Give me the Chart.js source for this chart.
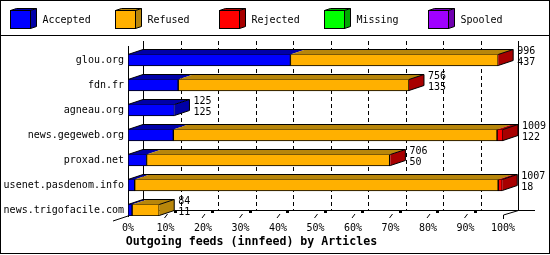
<!DOCTYPE html>
<html>
<head>
<meta charset="utf-8">
<script src="https://cdn.jsdelivr.net/npm/chart.js@4"></script>
<style>
  html, body { margin: 0; padding: 0; background: #fff; }
  canvas { display: block; }
</style>
</head>
<body>
<canvas id="feeds" width="550" height="255"></canvas>
<script>
// Serveurs innfeed et nombre d'articles par catégorie
const hosts = ['glou.org', 'fdn.fr', 'agneau.org', 'news.gegeweb.org', 'proxad.net', 'usenet.pasdenom.info', 'news.trigofacile.com'];
const accepted = [437, 135, 125, 122, 50, 18, 11];
const refused  = [559, 621, null, 871, 654, 978, 73];
const rejected = [0, 0, null, 16, 2, 11, null];
const missing  = [null, null, null, null, null, null, null];
const spooled  = [null, null, null, null, null, null, null];
const percentTicks = [0, 10, 20, 30, 40, 50, 60, 70, 80, 90, 100];

const seriesNames = ['Accepted', 'Refused', 'Rejected', 'Missing', 'Spooled'];
const frontColors = ['#0000ff', '#ffb000', '#ff0000', '#00ff00', '#a000ff'];
const darkColors  = ['#0000a8', '#b8860b', '#a80000', '#00a800', '#7000b0'];

const series = [accepted, refused, rejected, missing, spooled];
const totals = hosts.map((h, i) => series.reduce((s, arr) => s + (arr[i] || 0), 0));
const maxTotal = Math.max(...totals);

const DX = 15, DY = 5; // décalage du mur du fond (effet 3D)
const FONT = 'DejaVu Sans Mono';
const Y_MIN = -0.56, Y_MAX = 6.24;

function line(ctx, x1, y1, x2, y2) {
  ctx.beginPath();
  ctx.moveTo(x1, y1);
  ctx.lineTo(x2, y2);
  ctx.stroke();
}

function face(ctx, pts, color) {
  ctx.beginPath();
  ctx.moveTo(pts[0][0], pts[0][1]);
  for (let k = 1; k < pts.length; k++) ctx.lineTo(pts[k][0], pts[k][1]);
  ctx.closePath();
  ctx.fillStyle = color;
  ctx.fill();
}

const depthPlugin = {
  id: 'depth',
  // mur du fond, grille pointillée et sol
  beforeDatasetsDraw(chart) {
    const ctx = chart.ctx;
    const xs = chart.scales.x;
    const a = chart.chartArea;
    const backTop = a.top - DY;
    const floorY = Math.round(a.bottom - DY) - 0.5;
    ctx.save();
    ctx.strokeStyle = '#000';
    ctx.lineWidth = 1;
    percentTicks.forEach((p, k) => {
      const xf = xs.getPixelForValue(p / 100 * maxTotal);
      const xb = Math.round(xf + DX) + 0.5;
      const edge = k === 0 || k === percentTicks.length - 1;
      ctx.setLineDash(edge ? [] : [4, 3]);
      line(ctx, xb, backTop, xb, floorY);
      ctx.setLineDash([]);
      if (k === 0) {
        line(ctx, xf - DX, a.bottom + DY, xf, a.bottom);
      } else if (edge) {
        const x = Math.round(xf) + 0.5;
        line(ctx, x, a.bottom - 1, x, a.bottom + 3);
        line(ctx, x, a.bottom - 1, x + DX, floorY);
      } else {
        line(ctx, xf - 1, a.bottom + 2, xf + 2, a.bottom - 2);
        ctx.fillStyle = '#000';
        ctx.fillRect(Math.round(xf) + 8, a.bottom - 5, 3, 2);
      }
    });
    line(ctx, a.left + DX, floorY, a.right + DX + 17, floorY);
    ctx.restore();
  },
  // faces du dessus et côté des barres, puis valeurs
  afterDatasetsDraw(chart) {
    const ctx = chart.ctx;
    ctx.save();
    ctx.strokeStyle = '#000';
    ctx.lineWidth = 1;
    hosts.forEach((host, i) => {
      let first = null, last = null, lastDs = 0;
      chart.data.datasets.forEach((ds, d) => {
        if (ds.data[i].x === null) return;
        const el = chart.getDatasetMeta(d).data[i];
        const t = el.y - el.height / 2 + 0.5;
        if (el.x > el.base) {
          face(ctx, [[el.base, t], [el.x, t], [el.x + DX, t - DY], [el.base + DX, t - DY]], darkColors[d]);
        }
        if (!first) first = el;
        last = el;
        lastDs = d;
      });
      if (!last) return;
      const t = last.y - last.height / 2 + 0.5;
      const b = last.y + last.height / 2 - 0.5;
      const xe = last.x;
      face(ctx, [[xe, t], [xe + DX, t - DY], [xe + DX, b - DY], [xe, b]], darkColors[lastDs]);
      ctx.beginPath();
      ctx.moveTo(first.base, t);
      ctx.lineTo(first.base + DX, t - DY);
      ctx.lineTo(xe + DX, t - DY);
      ctx.lineTo(xe + DX, b - DY);
      ctx.lineTo(xe, b);
      ctx.moveTo(xe, t);
      ctx.lineTo(xe + DX, t - DY);
      ctx.stroke();

      ctx.fillStyle = '#000';
      ctx.font = '10px "' + FONT + '"';
      ctx.textAlign = 'left';
      ctx.textBaseline = 'middle';
      ctx.fillText(String(totals[i]), xe + DX + 4, last.y - 9);
      ctx.fillText(String(accepted[i]), xe + DX + 4, last.y + 2);
    });
    ctx.restore();
  },
  // légende avec petits cubes + cadre
  afterDraw(chart) {
    const ctx = chart.ctx;
    ctx.save();
    ctx.strokeStyle = '#000';
    ctx.lineWidth = 1;
    chart.data.datasets.forEach((ds, d) => {
      const x = Math.round(10 + d * 104.6) + 0.5;
      const y = 10.5, w = 20, h = 18, dx = 6, dy = 2;
      face(ctx, [[x, y], [x + w, y], [x + w + dx, y - dy], [x + dx, y - dy]], darkColors[d]);
      face(ctx, [[x + w, y], [x + w + dx, y - dy], [x + w + dx, y + h - dy], [x + w, y + h]], darkColors[d]);
      ctx.stroke();
      ctx.beginPath();
      ctx.moveTo(x, y);
      ctx.lineTo(x + dx, y - dy);
      ctx.lineTo(x + w + dx, y - dy);
      ctx.stroke();
      ctx.fillStyle = ds.backgroundColor;
      ctx.fillRect(x, y, w, h);
      ctx.strokeRect(x, y, w, h);
      ctx.fillStyle = '#000';
      ctx.font = '10px "' + FONT + '"';
      ctx.textAlign = 'left';
      ctx.textBaseline = 'middle';
      ctx.fillText(ds.label, x + 32, 20);
    });
    line(ctx, 0, 35.5, 550, 35.5);
    ctx.strokeRect(0.5, 0.5, 549, 253);
    ctx.restore();
  }
};

Chart.defaults.font.family = FONT;
Chart.defaults.font.size = 10;
Chart.defaults.color = '#000';

const ctx = document.getElementById('feeds').getContext('2d');
new Chart(ctx, {
  type: 'bar',
  data: {
    datasets: series.map((arr, d) => ({
      label: seriesNames[d],
      data: arr.map((v, i) => ({ x: v, y: i })),
      backgroundColor: frontColors[d],
      borderColor: '#000',
      borderWidth: 1,
      borderSkipped: false,
      barThickness: 12
    }))
  },
  options: {
    indexAxis: 'y',
    responsive: false,
    animation: false,
    devicePixelRatio: 1,
    events: [],
    layout: { padding: { top: 46, right: 47, left: 0, bottom: 0 } },
    scales: {
      x: {
        type: 'linear',
        stacked: true,
        min: 0,
        max: maxTotal,
        grid: { display: false, drawTicks: false, tickLength: 0 },
        border: { display: false },
        afterBuildTicks: s => {
          s.ticks = percentTicks.map(p => ({ value: p / 100 * maxTotal }));
          s.min = 0;
          s.max = maxTotal;
        },
        afterFit: s => { s.height = 19; },
        ticks: {
          padding: 6,
          maxRotation: 0,
          autoSkip: false,
          callback: v => Math.round(v / maxTotal * 100) + '%'
        }
      },
      y: {
        type: 'linear',
        stacked: true,
        reverse: true,
        offset: false,
        bounds: 'data',
        min: Y_MIN,
        max: Y_MAX,
        grid: { display: false, drawTicks: false, tickLength: 0 },
        border: { display: true, color: '#000', width: 1 },
        afterBuildTicks: s => {
          s.ticks = hosts.map((h, i) => ({ value: i }));
          s.min = Y_MIN;
          s.max = Y_MAX;
        },
        afterFit: s => { s.width = 128; },
        ticks: {
          padding: 4,
          autoSkip: false,
          callback: v => hosts[v]
        }
      }
    },
    plugins: {
      legend: { display: false },
      tooltip: { enabled: false },
      title: {
        display: true,
        position: 'bottom',
        text: 'Outgoing feeds (innfeed) by Articles',
        color: '#000',
        font: { family: FONT, size: 11.6, weight: 'bold', lineHeight: '14px' },
        padding: { top: 0, bottom: 6 }
      }
    }
  },
  plugins: [depthPlugin]
});
</script>
</body>
</html>
